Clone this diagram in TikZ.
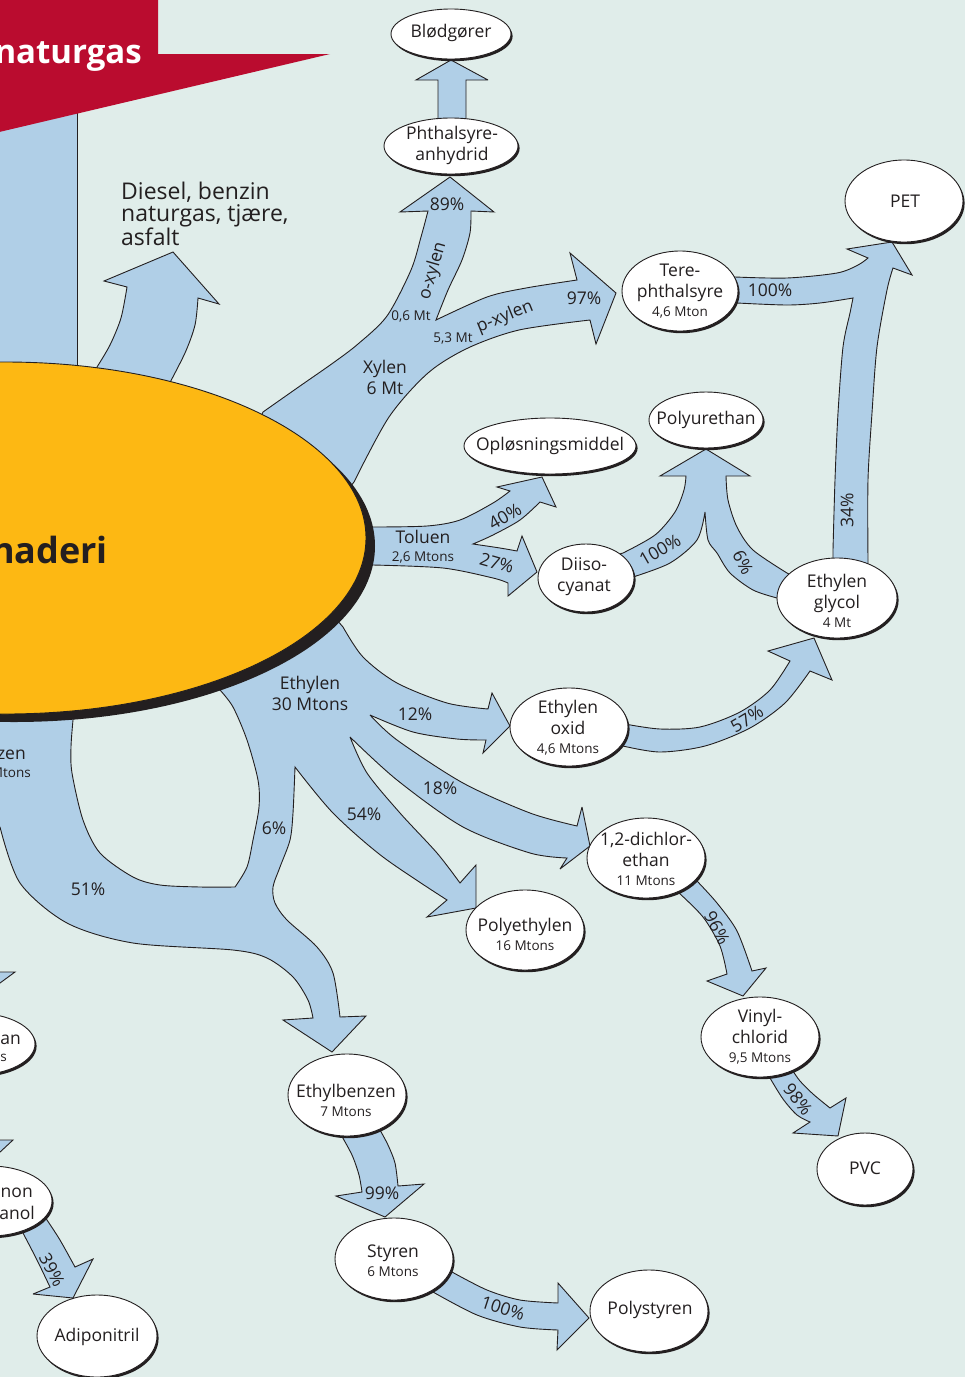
\documentclass[tikz,border=0pt]{standalone}
\usepackage{fontspec}
\setmainfont{Open Sans}
\usetikzlibrary{shapes.geometric,shadows}

\definecolor{bgcol}{RGB}{224,237,234}
\definecolor{flowblue}{RGB}{176,207,231}
\definecolor{ink}{RGB}{35,31,32}
\definecolor{plantorange}{RGB}{253,184,19}
\definecolor{bannerred}{RGB}{186,12,47}

\newcommand{\lblfont}{\fontsize{17.5}{21}\selectfont}
\newcommand{\amtfont}{\fontsize{13.5}{15}\selectfont}

\tikzset{
  flow/.style={fill=flowblue, draw=ink, line width=0.9pt, miter limit=4},
  prod/.style={ellipse, draw=ink, fill=white, line width=0.9pt, inner sep=0pt,
    drop shadow={shadow xshift=1.6pt, shadow yshift=-2.2pt, fill=ink, opacity=1}},
  lbl/.style={text=ink, font=\lblfont, align=center, inner sep=0pt},
  amt/.style={text=ink, font=\amtfont, inner sep=0pt},
}

\begin{document}
\begin{tikzpicture}[x=1pt,y=-1pt]
\useasboundingbox (0,0) rectangle (965,1377);
\clip (0,0) rectangle (965,1377);
\fill[bgcol] (0,0) rectangle (965,1377);

% naturgas feed from the left
\fill[flowblue] (-5,100) rectangle (77,430);
\draw[ink, line width=0.9pt] (77,100) -- (77,430);

% diesel, benzin ...
\filldraw[flow] (90,392) -- plot[smooth] coordinates {(97,367) (110,345) (121,318) (127,287)}
  -- (104,281) -- (173,252) -- (219,304)
  -- plot[smooth] coordinates {(198,298) (195,325) (185,353) (166,390)} -- (160,400) -- cycle;

% xylen: o-xylen and p-xylen
\filldraw[flow] (255,430) -- plot[smooth] coordinates {(263,412) (300,386) (333,363) (358,344) (387,316) (411,270) (421,237) (428,211)}
  -- (400,212) -- (450,177) -- (494,212)
  -- plot[smooth] coordinates {(471,211) (470,233) (462,260) (448,290) (436,320)}
  -- plot[smooth] coordinates {(436,320) (487,297) (526,288) (577,280)}
  -- (570,253) -- (616,293) -- (596,344)
  -- plot[smooth] coordinates {(590,320) (519,330) (468,348) (428,373) (389,417) (354,482)} -- (340,500) -- cycle;

% toluen
\filldraw[flow] (355,522) -- plot[smooth] coordinates {(373,527) (427,526) (460,520) (493,503) (510,491)}
  -- (497,487) -- (542,477) -- (556,507)
  -- plot[smooth] coordinates {(540,502) (520,520) (493,535) (473,544)}
  -- plot[smooth] coordinates {(473,544) (500,548) (517,551)}
  -- (522,536) -- (537,572) -- (508,596)
  -- plot[smooth] coordinates {(508,583) (493,578) (443,568) (373,565)} -- (355,568) -- cycle;

% diisocyanat and glycol to polyurethan
\filldraw[flow] (600,560) -- plot[smooth] coordinates {(623,553) (655,535) (675,512) (684,490) (686,476)}
  -- (660,476) -- (706,449) -- (750,476)
  -- plot[smooth] coordinates {(726,476) (728,500) (737,527) (753,550) (787,573)} -- (800,580) -- (795,600)
  -- plot[smooth] coordinates {(777,598) (753,590) (730,573) (717,553) (708,540) (705,512)}
  -- plot[smooth] coordinates {(705,512) (697,540) (670,563) (633,577)} -- (610,585) -- cycle;

% terephthalsyre and glycol to PET
\filldraw[flow] (715,278) -- plot[smooth] coordinates {(735,277) (787,278) (837,273) (858,265) (868,258)}
  -- (847,249) -- (892,242) -- (912,275)
  -- plot[smooth] coordinates {(893,268) (887,290) (877,347) (872,413) (868,480) (868,560)} -- (868,578) -- (833,578)
  -- plot[smooth] coordinates {(833,550) (835,480) (838,413) (843,347) (850,313) (853,298)}
  -- plot[smooth] coordinates {(853,298) (820,303) (787,305) (737,303)} -- (715,305) -- cycle;

% ethylenoxid to glycol
\filldraw[flow] (610,725) -- plot[smooth] coordinates {(625,724) (660,729) (700,727) (740,712) (770,690) (790,661)}
  -- (768,651) -- (814,638) -- (832,680)
  -- plot[smooth] coordinates {(810,671) (785,703) (750,728) (705,746) (660,752) (623,746)} -- (610,745) -- cycle;

% phthalsyreanhydrid to bloedgoerer
\filldraw[flow] (438,125) -- (438,80) -- (416,80) -- (451,60) -- (488,80) -- (466,80) -- (466,125) -- cycle;

% ethylbenzen to styren
\filldraw[flow] (335,1115) -- plot[smooth] coordinates {(340,1133) (352,1155) (359,1175) (362,1192)}
  -- (336,1196) -- (385,1217) -- (424,1184)
  -- plot[smooth] coordinates {(398,1186) (395,1163) (388,1145) (380,1130)} -- (382,1115) -- cycle;

% styren to polystyren
\filldraw[flow] (440,1262) -- plot[smooth] coordinates {(452,1272) (487,1290) (520,1300) (558,1303)}
  -- (558,1283) -- (589,1318) -- (557,1350)
  -- plot[smooth] coordinates {(558,1330) (520,1327) (477,1315) (433,1292)} -- (425,1285) -- cycle;

% dichlorethan to vinylchlorid
\filldraw[flow] (670,880) -- plot[smooth] coordinates {(678,892) (703,917) (720,946) (727,974)}
  -- (707,981) -- (743,996) -- (766,968)
  -- plot[smooth] coordinates {(752,971) (737,931) (717,903) (697,881)} -- (690,870) -- cycle;

% vinylchlorid to PVC
\filldraw[flow] (765,1060) -- plot[smooth] coordinates {(770,1078) (783,1099) (797,1115) (810,1122)}
  -- (793,1133) -- (838,1136) -- (846,1098)
  -- plot[smooth] coordinates {(830,1108) (813,1094) (800,1081) (793,1071)} -- (785,1055) -- cycle;

% cyclohexanon/-ol to adiponitril
\filldraw[flow] (20,1222) -- plot[smooth] coordinates {(23,1233) (37,1260) (50,1287)}
  -- (33,1294) -- (73,1298) -- (93,1259)
  -- plot[smooth] coordinates {(75,1267) (60,1240) (47,1220)} -- (40,1210) -- cycle;

% heads coming in from the left edge
\filldraw[flow] (-40,972) -- (15,972) -- (-15,994) -- cycle;
\filldraw[flow] (-40,1140) -- (13,1140) -- (-15,1166) -- cycle;

% ethylen and benzen
\filldraw[flow] (-10,700) -- (-10,822)
  -- plot[smooth] coordinates {(0,827) (20,883) (67,923) (133,943) (233,950) (267,958) (293,977) (308,1000) (313,1018)}
  -- (283,1020) -- (332,1052) -- (366,1016)
  -- plot[smooth] coordinates {(340,1017) (333,973) (317,947) (287,920) (275,903) (273,887) (280,867) (290,840) (293,813) (295,767)}
  -- plot[smooth] coordinates {(295,767) (333,813) (383,857) (447,900)}
  -- (427,917) -- (476,908) -- (476,865)
  -- plot[smooth] coordinates {(460,883) (437,853) (400,813) (367,773) (350,737)}
  -- plot[smooth] coordinates {(350,737) (397,780) (463,827) (530,853) (567,858)}
  -- (560,869) -- (590,846) -- (582,807)
  -- plot[smooth] coordinates {(577,826) (530,813) (463,783) (397,740) (370,715)}
  -- plot[smooth] coordinates {(370,715) (413,732) (457,739) (486,740)}
  -- (483,753) -- (510,726) -- (492,693)
  -- plot[smooth] coordinates {(488,709) (447,703) (397,683) (363,657) (343,627)}
  -- (330,612) -- (215,680)
  -- plot[smooth] coordinates {(220,690) (233,707) (247,740) (258,780) (259,807) (253,840) (247,867) (235,887)}
  -- plot[smooth] coordinates {(235,887) (200,887) (160,885) (133,877) (100,853) (83,820) (72,773) (71,747) (73,720)}
  -- (75,705) -- cycle;

% banner
\fill[bannerred] (-5,-5) -- (158,-5) -- (158,54) -- (330,54) -- (-5,133) -- cycle;
\node[anchor=base east, text=white, font=\fontsize{33}{33}\selectfont\bfseries, inner sep=0pt] (gas) at (142,63) {naturgas};

% the plant
\node[ellipse, fill=plantorange, draw=ink, line width=0.9pt, minimum width=722pt, minimum height=352pt,
  drop shadow={shadow xshift=9pt, shadow yshift=-8pt, fill=ink, opacity=1}] (plant) at (5,538) {};
\node[anchor=base east, text=ink, font=\fontsize{36}{36}\selectfont\bfseries, inner sep=0pt] (plantname) at (108,563) {naderi};

% products
\node[prod, minimum width=120pt, minimum height=50pt] (bloed) at (451,34) {};
\node[prod, minimum width=134pt, minimum height=56pt] (phthal) at (451,146) {};
\node[prod, minimum width=118pt, minimum height=82pt] (pet) at (904,201) {};
\node[prod, minimum width=116pt, minimum height=80pt] (tere) at (680,291) {};
\node[prod, minimum width=172pt, minimum height=56pt] (solv) at (550,446) {};
\node[prod, minimum width=114pt, minimum height=56pt] (pur) at (706,420) {};
\node[prod, minimum width=96pt, minimum height=68pt] (diiso) at (586,578) {};
\node[prod, minimum width=120pt, minimum height=80pt] (glycol) at (837,598) {};
\node[prod, minimum width=118pt, minimum height=78pt] (eo) at (569,727) {};
\node[prod, minimum width=118pt, minimum height=80pt] (edc) at (646,858) {};
\node[prod, minimum width=118pt, minimum height=80pt] (pe) at (525,930) {};
\node[prod, minimum width=118pt, minimum height=80pt] (vcm) at (760,1037) {};
\node[prod, minimum width=96pt, minimum height=72pt] (pvc) at (865,1169) {};
\node[prod, minimum width=118pt, minimum height=82pt] (ebz) at (347,1095) {};
\node[prod, minimum width=118pt, minimum height=82pt] (sty) at (394,1259) {};
\node[prod, minimum width=118pt, minimum height=82pt] (ps) at (649,1311) {};
\node[prod, minimum width=120pt, minimum height=82pt] (adn) at (97,1336) {};
\node[prod, minimum width=120pt, minimum height=62pt] (chx) at (-25,1044) {};
\node[prod, minimum width=124pt, minimum height=70pt] (kaol) at (-10,1201) {};

\node[lbl] (bloedtxt) at (451,33) {Blødgører};
\node[lbl] (phthaltxt) at (452,145) {Phthalsyre-\\anhydrid};
\node[lbl] (pettxt) at (905,201) {PET};
\node[lbl] (teretxt) at (680,291) {Tere-\\phthalsyre\\[-2pt]{\amtfont 4,6 Mton}};
\node[lbl] (solvtxt) at (550,446) {Opløsningsmiddel};
\node[lbl] (purtxt) at (706,420) {Polyurethan};
\node[lbl] (diisotxt) at (584,577) {Diiso-\\cyanat};
\node[lbl] (glycoltxt) at (837,601) {Ethylen\\glycol\\[-2pt]{\amtfont 4 Mt}};
\node[lbl] (eotxt) at (568,728) {Ethylen\\oxid\\[-2pt]{\amtfont 4,6 Mtons}};
\node[lbl] (edctxt) at (646,859) {1,2-dichlor-\\ethan\\[-2pt]{\amtfont 11 Mtons}};
\node[lbl] (petxt) at (525,934) {Polyethylen\\[-2pt]{\amtfont 16 Mtons}};
\node[lbl] (vcmtxt) at (760,1037) {Vinyl-\\chlorid\\[-2pt]{\amtfont 9,5 Mtons}};
\node[lbl] (pvctxt) at (865,1168) {PVC};
\node[lbl] (ebztxt) at (346,1100) {Ethylbenzen\\[-2pt]{\amtfont 7 Mtons}};
\node[lbl] (stytxt) at (393,1261) {Styren\\[-2pt]{\amtfont 6 Mtons}};
\node[lbl] (pstxt) at (650,1310) {Polystyren};
\node[lbl] (adntxt) at (97,1337) {Adiponitril};
\node[lbl, anchor=east] (chxtxt) at (21,1040) {an};
\node[amt, anchor=east] (chxamt) at (7,1058) {s};
\node[lbl, anchor=east] (kontxt) at (33,1193) {non};
\node[lbl, anchor=east] (koltxt) at (35,1213) {anol};

% flow labels
\node[lbl, anchor=west, align=left, font=\fontsize{23}{22.5}\selectfont] (fuel) at (121,214) {Diesel, benzin\\naturgas, tjære,\\asfalt};
\node[lbl] (p89) at (447,204) {89\%};
\node[lbl, rotate=74] (oxyl) at (433,271) {o-xylen};
\node[amt] (mta) at (411,316) {0,6 Mt};
\node[amt] (mtb) at (453,338) {5,3 Mt};
\node[lbl, rotate=22] (pxyl) at (505,317) {p-xylen};
\node[lbl] (p97) at (584,298) {97\%};
\node[lbl] (xyl) at (385,377) {Xylen\\6 Mt};
\node[lbl] (p100a) at (770,290) {100\%};
\node[lbl, rotate=90] (p34) at (847,510) {34\%};
\node[lbl, rotate=30] (p40) at (505,516) {40\%};
\node[lbl] (tol) at (423,547) {Toluen\\[-3pt]{\amtfont 2,6 Mtons}};
\node[lbl, rotate=-16] (p27) at (497,563) {27\%};
\node[lbl, rotate=30] (p100b) at (660,550) {100\%};
\node[lbl, rotate=-62] (p6a) at (743,562) {6\%};
\node[lbl, rotate=31] (p57) at (747,719) {57\%};
\node[lbl] (eth) at (310,693) {Ethylen\\30 Mtons};
\node[lbl] (p12) at (415,714) {12\%};
\node[lbl] (p18) at (440,788) {18\%};
\node[lbl] (p54) at (364,814) {54\%};
\node[lbl] (p6b) at (274,828) {6\%};
\node[lbl] (p51) at (88,889) {51\%};
\node[lbl, rotate=-62] (p96) at (717,928) {96\%};
\node[lbl, rotate=-52] (p98) at (798,1099) {98\%};
\node[lbl] (p99) at (382,1193) {99\%};
\node[lbl, rotate=-18] (p100c) at (503,1308) {100\%};
\node[lbl, rotate=-62] (p39) at (52,1270) {39\%};
\node[lbl, anchor=east] (bzn) at (26,755) {zen};
\node[amt, anchor=east] (bznamt) at (31,773) {Mtons};
\end{tikzpicture}
\end{document}
